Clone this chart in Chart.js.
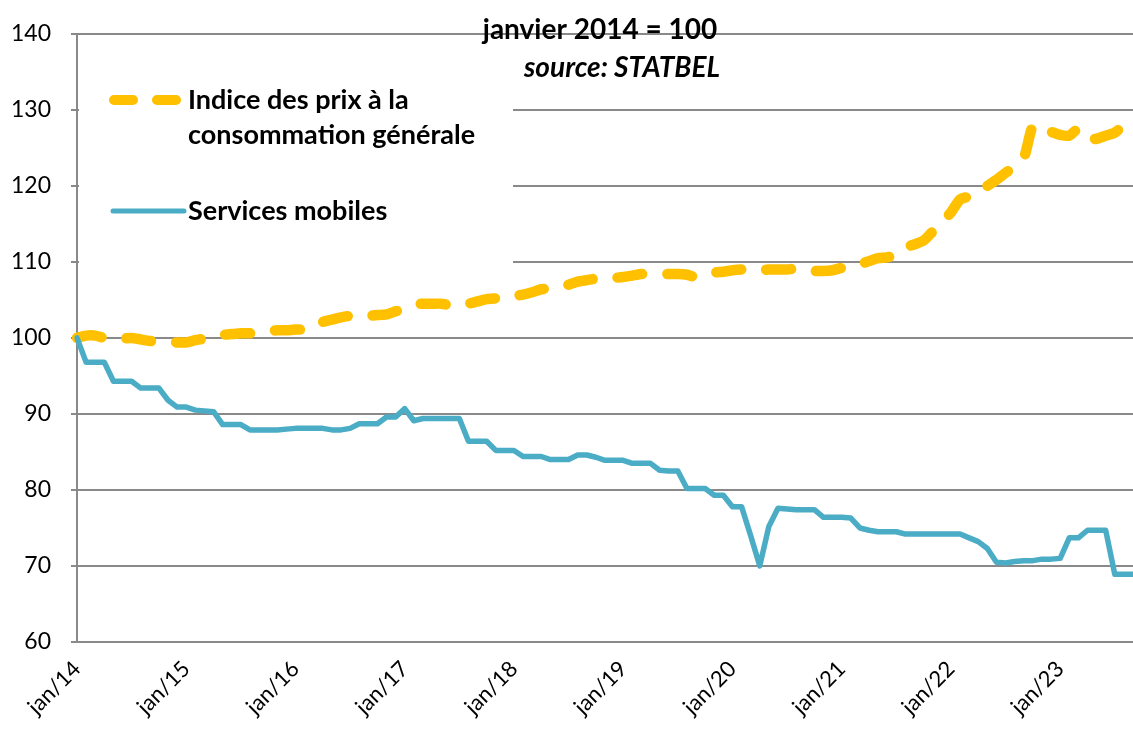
<!DOCTYPE html>
<html lang="fr">
<head>
<meta charset="utf-8">
<title>Services mobiles et indice des prix</title>
<script src="https://cdn.jsdelivr.net/npm/chart.js@4.4.0/dist/chart.umd.min.js"></script>
<style>
  html, body { margin: 0; padding: 0; background: #ffffff; }
  #wrap { width: 1133px; height: 731px; position: relative; }
</style>
</head>
<body>
<div id="wrap"><canvas id="chart"></canvas></div>
<script>
// categories: months from jan/14 to sep/23
const years = ['14', '15', '16', '17', '18', '19', '20', '21', '22', '23'];
const months = ['jan', 'fév', 'mar', 'avr', 'mai', 'juin', 'juil', 'août', 'sep', 'oct', 'nov', 'déc'];

// Indice des prix à la consommation générale (janvier 2014 = 100)
const cpi = [
  100.0, 100.3, 100.3, 100.0, 100.0, 99.9, 100.0, 99.8, 99.6, 99.5,
  99.5, 99.4, 99.4, 99.7, 99.9, 100.2, 100.4, 100.5, 100.6, 100.6,
  100.7, 100.9, 101.0, 101.0, 101.1, 101.1, 101.5, 102.1, 102.4, 102.7,
  102.9, 102.8, 102.9, 103.0, 103.1, 103.5, 103.9, 104.4, 104.5, 104.5,
  104.5, 104.3, 104.3, 104.5, 104.8, 105.1, 105.2, 105.3, 105.5, 105.7,
  106.0, 106.4, 106.5, 106.7, 107.0, 107.4, 107.6, 107.8, 107.9, 107.9,
  108.0, 108.2, 108.4, 108.4, 108.4, 108.4, 108.4, 108.3, 108.0, 108.3,
  108.6, 108.7, 108.9, 109.0, 109.0, 108.9, 109.0, 109.0, 109.0, 109.1,
  109.0, 108.8, 108.8, 108.9, 109.2, 109.4, 109.7, 110.1, 110.5, 110.6,
  110.9, 111.9, 112.3, 112.8, 114.0, 115.2, 116.5, 118.2, 118.6, 119.1,
  120.0, 120.8, 121.7, 122.6, 123.6, 127.9, 127.4, 127.1, 126.7, 126.6,
  127.5, 126.2, 126.2, 126.6, 127.0, 128.0, 129.0
];

// Services mobiles
const mobile = [
  100.0, 96.8, 96.8, 96.8, 94.3, 94.3, 94.3, 93.4, 93.4, 93.4,
  91.8, 90.9, 90.9, 90.5, 90.4, 90.3, 88.6, 88.6, 88.6, 87.9,
  87.9, 87.9, 87.9, 88.0, 88.1, 88.1, 88.1, 88.1, 87.9, 87.9,
  88.1, 88.7, 88.7, 88.7, 89.6, 89.6, 90.7, 89.1, 89.4, 89.4,
  89.4, 89.4, 89.4, 86.4, 86.4, 86.4, 85.2, 85.2, 85.2, 84.4,
  84.4, 84.4, 84.0, 84.0, 84.0, 84.6, 84.6, 84.3, 83.9, 83.9,
  83.9, 83.5, 83.5, 83.5, 82.6, 82.5, 82.5, 80.2, 80.2, 80.2,
  79.3, 79.3, 77.8, 77.8, 74.0, 70.0, 75.2, 77.6, 77.5, 77.4,
  77.4, 77.4, 76.4, 76.4, 76.4, 76.3, 75.0, 74.7, 74.5, 74.5,
  74.5, 74.2, 74.2, 74.2, 74.2, 74.2, 74.2, 74.2, 73.7, 73.2,
  72.3, 70.5, 70.4, 70.6, 70.7, 70.7, 70.9, 70.9, 71.0, 73.7,
  73.7, 74.7, 74.7, 74.7, 68.9, 68.9, 68.9
];

const seriesNames = ['Indice des prix à la\nconsommation générale', 'Services mobiles'];
const titleLines = ['janvier 2014 = 100', 'source: STATBEL'];

const labels = years.flatMap(y => months.map(m => m + '/' + y)).slice(0, cpi.length);

const ORANGE = '#FFC000';
const BLUE = '#4BACC6';
const GRID = '#898989';
const FONT = "Lato, 'Open Sans', sans-serif";

// white box behind the legend, hides the gridlines there
const legendBackground = {
    id: 'legendBackground',
    beforeDatasetsDraw(chart) {
        const ctx = chart.ctx;
        const area = chart.chartArea;
        ctx.save();
        ctx.fillStyle = '#ffffff';
        ctx.fillRect(area.left + 2, 40, 513 - area.left - 2, 228);
        ctx.restore();
    }
};

// legend and title text
const annotations = {
    id: 'annotations',
    afterDraw(chart) {
        const ctx = chart.ctx;
        ctx.save();

        // orange dashed sample
        ctx.lineCap = 'round';
        ctx.strokeStyle = ORANGE;
        ctx.lineWidth = 10;
        ctx.setLineDash([19, 24]);
        ctx.beginPath();
        ctx.moveTo(114, 100);
        ctx.lineTo(181, 100);
        ctx.stroke();

        // blue sample
        ctx.setLineDash([]);
        ctx.strokeStyle = BLUE;
        ctx.lineWidth = 5;
        ctx.beginPath();
        ctx.moveTo(113, 211);
        ctx.lineTo(184, 211);
        ctx.stroke();

        ctx.fillStyle = '#000000';
        ctx.textBaseline = 'middle';
        ctx.textAlign = 'left';
        ctx.font = 'bold 27px ' + FONT;
        const cpiLines = seriesNames[0].split('\n');
        ctx.fillText(cpiLines[0], 188, 100);
        ctx.fillText(cpiLines[1], 188, 135);
        ctx.fillText(seriesNames[1], 188, 211);

        ctx.textAlign = 'center';
        ctx.font = 'bold 28px ' + FONT;
        ctx.fillText(titleLines[0], 600, 30);
        ctx.font = 'italic bold 28px ' + FONT;
        ctx.fillText(titleLines[1], 622, 68);

        ctx.restore();
    }
};

const ctx = document.getElementById('chart').getContext('2d');

new Chart(ctx, {
    type: 'line',
    data: {
        labels: labels,
        datasets: [{
            label: seriesNames[1],
            data: mobile,
            borderColor: BLUE,
            borderWidth: 5.5,
            borderJoinStyle: 'round',
            borderCapStyle: 'round',
            pointRadius: 0,
            tension: 0,
            fill: false
        }, {
            label: seriesNames[0],
            data: cpi,
            borderColor: ORANGE,
            borderWidth: 10.5,
            borderDash: [25, 25],
            borderCapStyle: 'round',
            borderJoinStyle: 'round',
            pointRadius: 0,
            tension: 0.2,
            fill: false
        }]
    },
    options: {
        responsive: true,
        maintainAspectRatio: false,
        animation: false,
        layout: {
            padding: { top: 31, right: 0, bottom: 0, left: 0 }
        },
        plugins: {
            legend: { display: false },
            tooltip: { enabled: false }
        },
        scales: {
            x: {
                offset: false,
                grid: { display: false },
                border: { display: true, color: GRID, width: 2 },
                ticks: {
                    autoSkip: false,
                    minRotation: 45,
                    maxRotation: 45,
                    padding: 6,
                    color: '#000000',
                    font: { family: FONT, size: 22 },
                    callback: function(value, index) {
                        return index % 12 === 0 ? this.getLabelForValue(value) : null;
                    }
                },
                afterFit(scale) {
                    scale.height = 89;
                    scale.paddingLeft = 0;
                    scale.paddingRight = 0;
                }
            },
            y: {
                min: 60,
                max: 140,
                grid: {
                    color: GRID,
                    lineWidth: 2,
                    drawTicks: true,
                    tickLength: 6
                },
                border: { display: true, color: GRID, width: 2 },
                ticks: {
                    stepSize: 10,
                    padding: 20,
                    color: '#000000',
                    font: { family: FONT, size: 23 }
                },
                afterFit(scale) {
                    scale.width = 77;
                }
            }
        }
    },
    plugins: [legendBackground, annotations]
});
</script>
</body>
</html>
